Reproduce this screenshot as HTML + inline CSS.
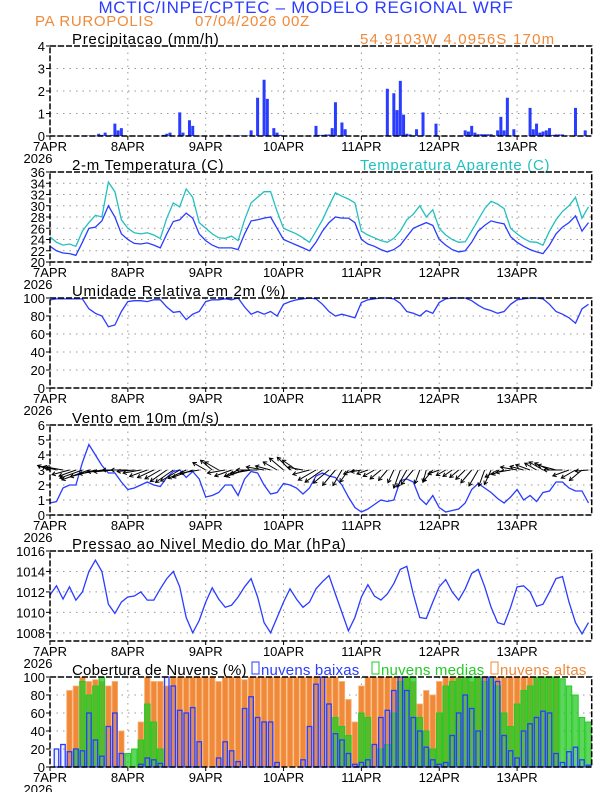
<!DOCTYPE html>
<html><head><meta charset="utf-8">
<style>
html,body{margin:0;padding:0;background:#fff;}
#wrap{position:relative;width:612px;height:792px;overflow:hidden;}
svg text{font-family:"Liberation Sans Narrow","Liberation Sans",sans-serif;}
.tt{letter-spacing:0.7px;}
.tl{letter-spacing:0.2px;}
</style></head>
<body>
<div id="wrap">
<svg id="chart" width="612" height="792" viewBox="0 0 612 792">
<text x="306" y="13" text-anchor="middle" font-size="17" fill="#2a3cff" class="tt">MCTIC/INPE/CPTEC – MODELO REGIONAL WRF</text>
<text x="35" y="26" font-size="15" fill="#f08a3a" class="tt">PA RUROPOLIS</text>
<text x="195" y="26" font-size="15" fill="#f08a3a" class="tt">07/04/2026 00Z</text>
<text x="360" y="44" font-size="15" fill="#f08a3a" style="letter-spacing:1.2px">54.9103W 4.0956S 170m</text>
<text x="72" y="44" font-size="15" fill="#000" class="tt">Precipitacao (mm/h)</text>
<text x="72" y="170" font-size="15" fill="#000" class="tt">2-m Temperatura (C)</text>
<text x="360" y="170" font-size="15" fill="#22c0c0" class="tt">Temperatura Aparente (C)</text>
<text x="72" y="296" font-size="15" fill="#000" class="tt">Umidade Relativa em 2m (%)</text>
<text x="72" y="423" font-size="15" fill="#000" class="tt">Vento em 10m (m/s)</text>
<text x="72" y="549" font-size="15" fill="#000" class="tt">Pressao ao Nivel Medio do Mar (hPa)</text>
<text x="72" y="675" font-size="15" fill="#000" class="tl">Cobertura de Nuvens (%)</text>
<rect x="252" y="662" width="7" height="12" fill="none" stroke="#2a3cff"/>
<text x="261" y="675" font-size="15" fill="#2a3cff" class="tl">nuvens baixas</text>
<rect x="372" y="662" width="7" height="12" fill="none" stroke="#22cc22"/>
<text x="381" y="675" font-size="15" fill="#22cc22" class="tl">nuvens medias</text>
<rect x="491" y="662" width="7" height="12" fill="none" stroke="#f08a3a"/>
<text x="500" y="675" font-size="15" fill="#f08a3a" class="tl">nuvens altas</text>
</svg>
</div>
<script>
// ---- data (2-hourly unless noted) ----
const dayLabels = ["7APR","8APR","9APR","10APR","11APR","12APR","13APR"];
const precipHours = [12,13,14,15,16,17,18,19,20,21,22,35,36,37,40,41,43,44,55,58,59,60,61,62,64,66,67,69,70,71,82,83,84,85,86,87,88,90,91,103,104,106,107,108,109,110,111,113,115,119,128,129,130,131,132,133,134,135,136,138,139,140,141,143,148,149,150,151,152,153,154,155,156,157,158,159,160,161,162,165];
const precipValues = [0.02,0.02,0.02,0.1,0.05,0.15,0.02,0.05,0.55,0.25,0.35,0.05,0.1,0.15,1.05,0.15,0.7,0.45,0.05,0.02,0.02,0.02,0.02,0.25,1.7,2.5,1.65,0.35,0.15,0.05,0.45,0.05,0.05,0.07,0.07,0.35,1.5,0.6,0.3,0.02,2.1,1.9,1.15,2.45,0.95,0.1,0.07,0.3,1.05,0.55,0.25,0.2,0.45,0.15,0.08,0.08,0.08,0.08,0.08,0.25,0.85,0.25,1.7,0.3,1.25,0.3,0.55,0.15,0.2,0.25,0.35,0.05,0.07,0.07,0.07,0.02,0.02,0.02,1.25,0.25];
const tempValues = [22.8,22.0,21.6,21.5,21.2,23.5,26.0,26.2,27.3,30.0,28.0,25.0,
24.0,23.3,23.2,23.4,23.0,22.5,25.0,27.2,27.5,28.7,27.8,25.0,
23.8,23.0,22.5,22.5,22.5,22.2,25.0,27.3,27.5,27.8,28.0,26.0,
24.0,23.5,23.0,22.5,22.0,23.5,25.5,27.0,28.0,27.8,27.8,27.0,
24.0,23.2,22.8,22.2,21.8,22.2,23.0,24.5,26.0,26.5,27.0,26.5,
24.0,23.0,22.2,21.8,22.0,23.5,25.5,26.5,27.3,27.0,26.8,24.5,
23.5,22.8,22.2,21.8,21.5,23.0,25.0,26.2,27.0,28.2,25.5,27.0];
const apparentValues = [24.5,23.5,23.0,23.2,22.8,25.5,27.0,28.3,28.0,34.2,32.5,27.5,
26.0,25.2,25.0,25.2,24.8,24.2,27.8,30.5,29.8,33.0,31.5,27.0,
26.0,25.0,24.3,24.2,24.6,23.8,27.5,30.5,31.5,32.5,32.5,29.0,
26.0,25.5,25.0,24.3,23.5,25.5,27.5,30.0,32.3,31.7,31.2,30.5,
25.5,24.8,24.3,23.8,23.5,24.2,25.5,27.5,28.5,30.0,28.0,29.3,
26.0,24.8,24.0,23.5,23.6,25.5,27.5,29.5,30.8,30.3,29.5,26.0,
25.0,24.2,23.6,23.5,23.0,25.5,27.5,29.0,30.0,31.5,27.8,29.8];
const rhValues = [98,99,99,99,99,99,88,83,80,68,70,85,
96,97,97,96,98,98,90,84,85,76,82,85,
96,98,98,99,98,100,90,82,85,82,85,80,
93,96,98,99,100,99,93,85,80,82,80,78,
95,98,99,100,100,99,94,85,83,80,86,83,
95,99,100,100,100,97,92,88,86,83,85,93,
98,99,100,100,99,93,85,82,78,72,88,93];
const windSpeed = [0.8,0.9,1.8,2.0,2.0,3.5,4.7,4.0,3.3,2.8,2.8,2.2,
1.7,1.8,2.0,2.2,2.0,1.9,2.5,2.9,3.0,2.5,2.9,2.4,
1.2,1.3,1.5,2.0,2.0,1.3,2.4,2.9,2.8,2.0,1.4,1.5,
2.1,2.0,1.8,1.4,1.8,2.6,2.8,2.6,2.5,2.0,1.2,0.5,
0.2,0.4,0.7,1.0,0.9,1.0,2.3,2.4,2.2,1.1,0.7,1.3,
0.5,0.2,0.3,0.4,0.8,1.7,2.1,1.8,1.5,1.1,0.8,1.2,
1.7,1.0,1.3,0.9,1.5,1.6,2.2,2.2,1.8,1.6,1.6,0.8];
const windAngle = [160,165,170,195,200,200,200,195,190,185,185,180,
180,185,190,200,205,210,215,215,210,205,200,190,
150,140,150,190,200,205,200,190,180,170,165,150,
140,135,145,170,195,210,215,220,230,240,235,200,
190,200,210,220,230,245,250,240,230,250,255,230,
200,210,215,220,225,230,240,250,245,210,200,190,
170,165,160,150,150,155,165,180,200,210,220,185];
const pressureValues = [1011.7,1012.6,1011.3,1012.5,1011.2,1012.0,1014.0,1015.1,1014.0,1010.8,1009.9,1011.0,
1011.5,1011.6,1012.0,1011.2,1011.2,1012.3,1013.3,1014.0,1012.5,1009.5,1008.0,1009.2,
1011.0,1012.4,1011.3,1010.5,1010.7,1011.5,1012.5,1013.3,1011.5,1009.0,1008.0,1009.5,
1011.0,1012.3,1011.3,1010.5,1011.0,1012.3,1013.0,1013.6,1011.8,1010.0,1008.2,1009.5,
1011.5,1012.7,1011.6,1011.2,1011.8,1012.8,1014.2,1014.5,1011.8,1009.5,1009.4,1011.0,
1012.5,1013.2,1012.0,1011.2,1012.3,1013.8,1014.2,1012.5,1010.5,1009.0,1008.8,1010.5,
1012.5,1012.6,1012.0,1010.6,1010.8,1012.0,1013.3,1013.5,1011.0,1009.0,1007.9,1009.0];
const highClouds = [0,0,0,85,90,100,95,97,95,90,95,40,
0,0,50,100,95,95,90,100,100,100,100,100,
100,100,95,100,100,100,97,100,100,100,100,100,
100,100,100,100,100,100,100,100,100,95,75,50,
90,100,100,100,100,100,100,100,95,70,85,80,
95,100,100,100,100,95,100,100,100,100,100,100,
100,100,100,100,100,100,100,0,0,0,0,0];
const midClouds = [0,0,0,0,20,95,80,90,100,0,0,0,
15,20,30,70,50,20,0,0,0,0,0,0,
0,0,0,0,0,0,0,0,0,0,0,0,
0,0,0,0,0,0,0,0,55,45,35,0,
60,55,0,20,25,60,95,100,100,55,40,20,
60,90,95,98,100,100,100,95,98,90,60,45,
70,85,90,100,100,100,100,98,90,80,55,50];
const lowClouds = [0,20,25,17,20,18,60,30,12,45,60,15,
0,0,3,10,8,4,100,90,63,60,66,28,
0,0,10,28,18,6,65,78,55,50,50,5,
0,0,0,8,45,92,100,70,37,30,15,3,
5,8,25,55,63,85,100,85,55,40,22,8,
3,5,35,60,80,65,40,100,100,95,35,18,
10,40,48,55,62,60,15,5,17,22,8,2];

// ---- layout ----
const X0 = 50, X1 = 591.7, HMAX = 167;
const PW = X1 - X0;
const PH = 90;
const tops = [46, 172, 298, 425, 551, 677];
function xh(h){ return X0 + h * PW / HMAX; }
function yScale(top, min, max){ return v => top + PH - (v - min) / (max - min) * PH; }
const svg = document.getElementById('chart');
const NS = 'http://www.w3.org/2000/svg';
function mk(tag, attrs){
  const e = document.createElementNS(NS, tag);
  for (const k in attrs) e.setAttribute(k, attrs[k]);
  svg.appendChild(e);
  return e;
}
const BLUE = '#2a3cff', CYAN = '#22c0c0', ORANGE = '#f08a3a', GREEN = '#22cc22';

function drawAxes(pi, min, max, ticks, tickFmt, name){
  const top = tops[pi];
  const ys = yScale(top, min, max);
  ticks.forEach(t => {
    const y = ys(t);
    const g = mk('line', {x1:X0, x2:X1, y1:y, y2:y, stroke:'#999', 'stroke-width':1, 'stroke-dasharray':'1.5,5'});
    
    
    const tk = mk('line', {x1:X0-4, x2:X0, y1:y, y2:y, stroke:'#000'});
    
    
    const lb = mk('text', {x:X0-5, y:y+5, 'text-anchor':'end', 'font-size':13, fill:'#000'});
    lb.textContent = tickFmt(t);
    
    
  });
  dayLabels.forEach((d, i) => {
    const x = xh(i * 24);
    if (i > 0) {
      const g = mk('line', {x1:x, x2:x, y1:top, y2:top+PH, stroke:'#999', 'stroke-width':1, 'stroke-dasharray':'1.5,5'});
      
      
    }
    const tk = mk('line', {x1:x, x2:x, y1:top+PH, y2:top+PH+4, stroke:'#000'});
    
    
    const lb = mk('text', {x:x, y:top+PH+15, 'text-anchor':'middle', 'font-size':13, fill:'#000'});
    lb.textContent = d;
    
    
  });
  const yr = mk('text', {x:X0-12, y:top+PH+27, 'text-anchor':'middle', 'font-size':13, fill:'#000'});
  yr.textContent = '2026';
  
  
  return ys;
}
function drawFrame(pi, name){
  const f = mk('rect', {x:X0, y:tops[pi], width:PW, height:PH, fill:'none', stroke:'#000', 'stroke-width':1.5, 'stroke-dasharray':'6,2'});
  
  
}
function drawLine(vals, ys, color, name){
  const pts = vals.map((v, i) => xh(i * 2).toFixed(1) + ',' + ys(v).toFixed(1)).join(' ');
  const p = mk('polyline', {points:pts, fill:'none', stroke:color, 'stroke-width':1.3});
  
  
}

// Panel 1: precipitation
let ys = drawAxes(0, 0, 4, [0,1,2,3,4], t => t, 'precip');
precipHours.forEach((h, i) => {
  const y = ys(precipValues[i]);
  const r = mk('rect', {x:xh(h)-1.5, y:y, width:3, height:ys(0)-y, fill:BLUE});
  
  
});
drawFrame(0, 'precip');

// Panel 2: temperature
ys = drawAxes(1, 20, 36, [20,22,24,26,28,30,32,34,36], t => t, 'temp');
drawLine(apparentValues, ys, CYAN, 'apparent-temp-line');
drawLine(tempValues, ys, BLUE, 'temp-line');
drawFrame(1, 'temp');

// Panel 3: RH
ys = drawAxes(2, 0, 100, [0,20,40,60,80,100], t => t, 'rh');
drawLine(rhValues, ys, BLUE, 'rh-line');
drawFrame(2, 'rh');

// Panel 4: wind
ys = drawAxes(3, 0, 6, [0,1,2,3,4,5,6], t => t, 'wind');
drawLine(windSpeed, ys, BLUE, 'wind-speed-line');
windSpeed.forEach((s, i) => {
  const x = xh(i * 2), y = ys(3);
  const L = 10 + s * 4;
  const a = windAngle[i] * Math.PI / 180;
  const x2 = x + Math.cos(a) * L, y2 = y - Math.sin(a) * L;
  const sh = mk('line', {x1:x, y1:y, x2:x2, y2:y2, stroke:'#000', 'stroke-width':1});
  
  
  const hx1 = x2 + Math.cos(a + 2.6) * 4, hy1 = y2 - Math.sin(a + 2.6) * 4;
  const hx2 = x2 + Math.cos(a - 2.6) * 4, hy2 = y2 - Math.sin(a - 2.6) * 4;
  const hd = mk('polyline', {points:hx1+','+hy1+' '+x2+','+y2+' '+hx2+','+hy2, fill:'none', stroke:'#000', 'stroke-width':1});
  
  
});
drawFrame(3, 'wind');

// Panel 5: pressure
ys = drawAxes(4, 1007.2, 1016, [1008,1010,1012,1014,1016], t => t, 'pressure');
drawLine(pressureValues, ys, BLUE, 'pressure-line');
drawFrame(4, 'pressure');

// Panel 6: clouds
ys = drawAxes(5, 0, 100, [0,20,40,60,80,100], t => t, 'cloud');
const bw = 2 * PW / HMAX;
highClouds.forEach((v, i) => {
  if (v <= 0) return;
  const y = ys(v);
  const r = mk('rect', {x:xh(i*2)-bw/2+0.5, y:y, width:bw-1, height:ys(0)-y, fill:ORANGE, stroke:'#f8b070', 'stroke-width':0.8});
  
  
});
midClouds.forEach((v, i) => {
  if (v <= 0) return;
  const y = ys(v);
  const r = mk('rect', {x:xh(i*2)-bw/2+0.5, y:y, width:bw-1, height:ys(0)-y, fill:'rgba(40,200,40,0.75)', stroke:GREEN, 'stroke-width':1});
  
  
});
lowClouds.forEach((v, i) => {
  if (v <= 0) return;
  const y = ys(v);
  const r = mk('rect', {x:xh(i*2)-bw/2+1, y:y, width:bw-2, height:ys(0)-y, fill:'rgba(120,150,255,0.15)', stroke:BLUE, 'stroke-width':1.3});
  
  
});
drawFrame(5, 'cloud');
</script>
</body></html>
